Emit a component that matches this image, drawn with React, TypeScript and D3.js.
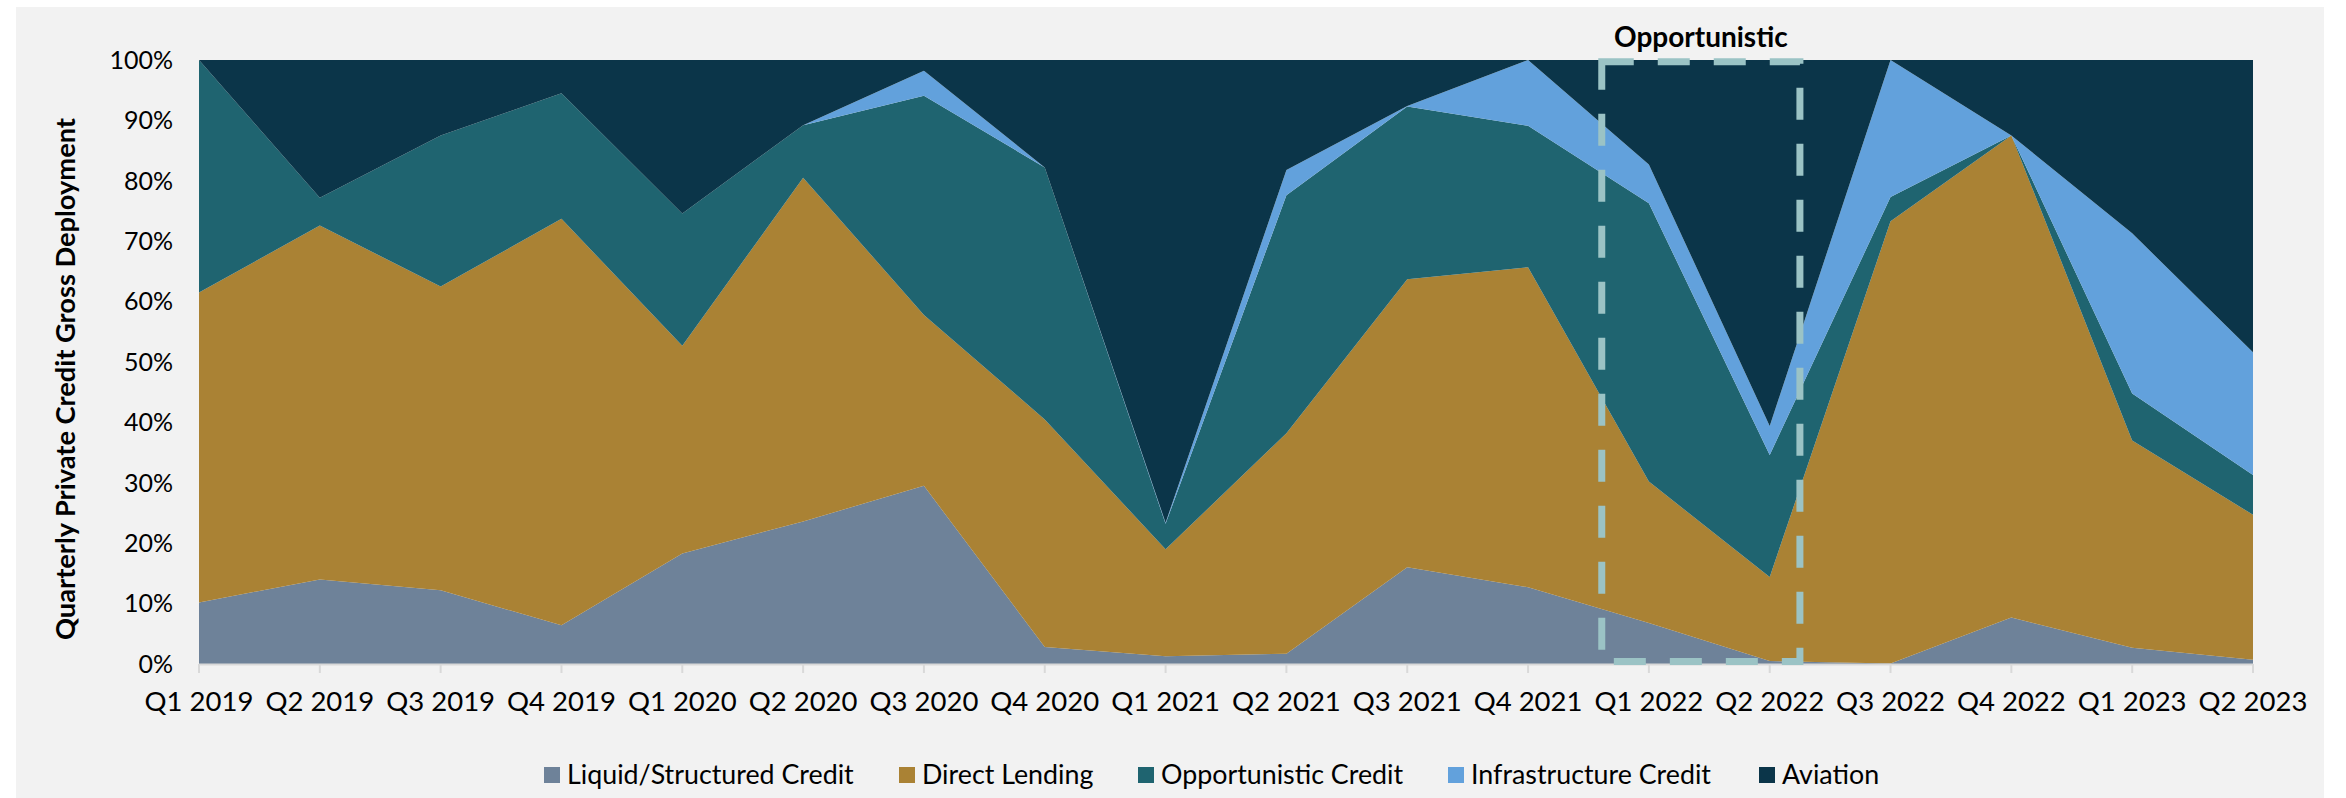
import React from 'react';
import * as d3 from 'd3';

const quarters = [
  'Q1 2019', 'Q2 2019', 'Q3 2019', 'Q4 2019', 'Q1 2020', 'Q2 2020', 'Q3 2020', 'Q4 2020', 'Q1 2021',
  'Q2 2021', 'Q3 2021', 'Q4 2021', 'Q1 2022', 'Q2 2022', 'Q3 2022', 'Q4 2022', 'Q1 2023', 'Q2 2023',
];

// shares in %, per quarter
const liquidStructured = [10.2, 14.0, 12.2, 6.4, 18.3, 23.6, 29.5, 2.8, 1.3, 1.7, 16.0, 12.7, 6.8, 0.5, 0.1, 7.7, 2.7, 0.7];
const directLending = [51.3, 58.6, 50.3, 67.3, 34.4, 56.9, 28.3, 37.7, 17.7, 36.5, 47.7, 53.0, 23.4, 13.9, 73.2, 79.8, 34.3, 24.0];
const opportunistic = [38.5, 4.6, 25.0, 20.8, 21.9, 8.7, 36.3, 41.7, 4.2, 39.4, 28.6, 23.4, 46.1, 20.2, 4.0, 0, 7.8, 6.6];
const infrastructure = [0, 0, 0, 0, 0, 0, 4.1, 0, 0.2, 4.2, 0.1, 10.9, 6.4, 4.8, 22.7, 0, 26.5, 20.3];
const aviation = [0, 22.8, 12.5, 5.5, 25.4, 10.8, 1.8, 17.8, 76.6, 18.2, 7.6, 0, 17.3, 60.6, 0, 12.5, 28.7, 48.4];

const seriesNames = ['Liquid/Structured Credit', 'Direct Lending', 'Opportunistic Credit', 'Infrastructure Credit', 'Aviation'];
const seriesColors = ['#6e8299', '#aa8234', '#1f6470', '#62a1dc', '#0b3549'];
const yTicks = [0, 10, 20, 30, 40, 50, 60, 70, 80, 90, 100];

// highlighted window (in quarter-index units) and its label
const highlightFrom = 11.61;
const highlightTo = 13.25;
const highlightLabel = 'Opportunistic';

const W = 2346;
const H = 798;
const FONT = 'Lato, "Open Sans", sans-serif';

export default function App() {
  const margin = { top: 60, right: 93, bottom: 134, left: 199 };
  const innerW = W - margin.left - margin.right;
  const innerH = H - margin.top - margin.bottom;

  const x = d3.scalePoint<string>().domain(quarters).range([0, innerW]);
  const y = d3.scaleLinear().domain([0, 100]).range([innerH, 0]);

  const rows = quarters.map((q, i) => ({
    q,
    s0: liquidStructured[i],
    s1: directLending[i],
    s2: opportunistic[i],
    s3: infrastructure[i],
    s4: aviation[i],
  }));
  const keys = ['s0', 's1', 's2', 's3', 's4'];
  const stacked = d3.stack<any>().keys(keys)(rows);

  const area = d3
    .area<any>()
    .x((d) => x(d.data.q) as number)
    .y0((d) => y(d[0]))
    .y1((d) => y(d[1]));

  const step = x.step();
  const bx0 = highlightFrom * step;
  const bx1 = highlightTo * step;
  const by0 = y(99.7);
  const by1 = y(0.4);

  const legendX = [544, 899, 1138, 1448, 1759];

  return (
    <svg width={W} height={H} style={{ position: 'absolute', left: 0, top: 0, display: 'block' }} fontFamily={FONT}>
      <rect x={0} y={0} width={W} height={H} fill="#ffffff" />
      <rect x={16} y={7} width={2308} height={H - 7} fill="#f2f2f2" />

      <g transform={`translate(${margin.left},${margin.top})`}>
        {stacked.map((s, i) => (
          <path key={i} d={area(s) as string} fill={seriesColors[i]} />
        ))}

        {/* x axis */}
        <line x1={0} x2={innerW} y1={innerH + 0.5} y2={innerH + 0.5} stroke="#d9d9d9" strokeWidth={2} />
        {quarters.map((q) => (
          <g key={q} transform={`translate(${x(q)},0)`}>
            <line y1={innerH} y2={innerH + 9} stroke="#d9d9d9" strokeWidth={2} />
            <text y={innerH + 47} textAnchor="middle" fontSize={27.5} fill="#000">
              {q}
            </text>
          </g>
        ))}

        {/* y axis */}
        {yTicks.map((t) => (
          <text key={t} x={-26} y={y(t)} dy="0.35em" textAnchor="end" fontSize={25} fill="#000">
            {t}%
          </text>
        ))}
        <text
          transform={`translate(${66 - margin.left},${379 - margin.top}) rotate(-90)`}
          textAnchor="middle"
          dy="0.35em"
          fontSize={26}
          fontWeight="bold"
          fill="#000"
          textLength={522}
          lengthAdjust="spacingAndGlyphs"
        >
          Quarterly Private Credit Gross Deployment
        </text>

        {/* highlighted window */}
        <path
          d={`M${bx0},${by0}H${bx1}V${by1}H${bx0}Z`}
          fill="none"
          stroke="#9bc3c5"
          strokeWidth={7}
          strokeDasharray="32,24"
        />
        <text x={(bx0 + bx1) / 2} y={47 - margin.top} textAnchor="middle" fontSize={28} fontWeight="bold" fill="#000">
          {highlightLabel}
        </text>
      </g>

      {/* legend */}
      {seriesNames.map((name, i) => (
        <g key={name} transform={`translate(${legendX[i]},775)`}>
          <rect x={0} y={-8} width={16} height={16} fill={seriesColors[i]} />
          <text x={23} y={0} dy="0.35em" fontSize={26.8} fill="#000">
            {name}
          </text>
        </g>
      ))}
    </svg>
  );
}
